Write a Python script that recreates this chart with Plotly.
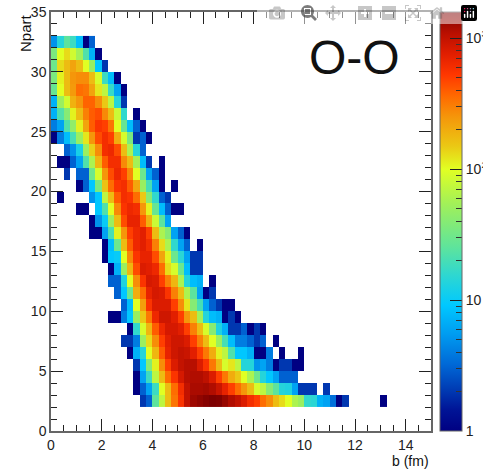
import numpy as np
import plotly.graph_objects as go

b_edges = [i * 0.25 for i in range(61)]
npart_edges = list(range(2, 34))

n2 = [0]*14 + [2,3,25,70,170,330,550,1000,1300,1400,1500,1600,1550,1350,1150,1000,800,600,500,350,270,170,130,100,60,50,16,15,7,6,3.5,1,2,0,0,0,0,0,1]
n3 = [0]*13 + [1,3,6,18,100,170,350,600,1000,1200,1200,1250,1150,950,700,500,350,250,170,90,70,40,25,14,13,6,2,2,2,0,2]
n4 = [0]*13 + [1,6,18,70,170,350,550,850,1100,1150,1150,1050,800,500,320,200,150,100,60,30,14,9,6,3,3,3]
n5 = [0]*13 + [2,9,40,110,270,500,800,1000,1100,1100,800,550,320,170,90,120,70,14,14,5,6,4,1,2,2,1,1]
n6 = [0]*12 + [1,7,14,100,180,400,700,900,1000,950,750,500,320,200,110,70,22,9,9,7,1,1,4,0,1,0,0,1]
n7 = [0]*11 + [2,2,4,50,130,270,500,750,900,900,800,500,300,170,100,50,20,8,4,4,3,2,3,0,1]
n8 = [0]*12 + [1,16,90,180,400,650,850,850,750,500,300,170,90,40,13,7,2,2,3,1,2,1]
n9 = [0]*9 + [1,1,4,9,50,150,320,650,900,900,750,500,250,170,55,14,8,7,1,2,1]
n10 = [0]*11 + [3,8,100,230,550,800,800,800,500,270,120,40,20,6,3,2,1,1]
n11 = [0]*10 + [3,9,30,200,350,700,850,800,550,300,170,60,25,6,1,2]
n12 = [0]*9 + [3,3,13,100,270,550,850,800,500,300,180,60,14,8,7,0,1]
n13 = [0]*9 + [1,7,50,180,450,800,750,650,350,130,90,30,8,2,2]
n14 = [0]*8 + [1,9,10,100,280,550,700,700,450,220,110,30,15,6,2,2]
n15 = [0]*8 + [1,8,30,170,400,650,750,600,300,130,60,16,6,3,0,1]
n16 = [0]*6 + [1,1,6,20,110,250,500,650,750,500,170,60,40,6,3,1]
n17 = [0]*6 + [1,5,10,50,170,450,700,700,400,190,80,25,6]
n18 = [0]*4 + [1,1,0,9,22,100,280,550,650,600,250,110,28,8,3,1,1]
n19 = [0,1,0,0,0,0,5,9,70,170,400,600,550,350,150,40,16,3,2]
n20 = [0,0,0,0,1,3,9,35,160,350,550,600,400,210,50,20,6,1,0,1]
n21 = [0,0,2,0,3,3,30,90,250,450,650,500,280,100,30,6,3,1]
n22 = [0,1,1,3,6,22,60,180,400,600,600,280,170,55,8,2,0,1]
n23 = [0,0,3,5,12,50,140,270,600,650,450,170,60,14,3]
n24 = [1,4,8,20,50,120,250,450,600,500,200,90,35,2,3,1]
n25 = [4,6,22,45,110,220,400,550,500,330,100,28,8,3,1]
n26 = [7,22,40,110,170,300,400,450,280,170,80,16,0,1]
n27 = [7,50,85,190,250,380,380,270,150,70,14,2]
n28 = [28,100,170,240,350,330,220,120,70,17,6,1]
n29 = [35,110,170,250,270,270,170,90,18,8,1]
n30 = [30,130,170,220,170,100,50,9,2]
n31 = [35,100,130,85,55,22,7,1]
n32 = [5,14,25,18,8,1,3]

rows = [n2,n3,n4,n5,n6,n7,n8,n9,n10,n11,n12,n13,n14,n15,n16,n17,
        n18,n19,n20,n21,n22,n23,n24,n25,n26,n27,n28,n29,n30,n31,n32]

x_ticks = [0, 2, 4, 6, 8, 10, 12, 14]
y_ticks = [0, 5, 10, 15, 20, 25, 30, 35]
cbar_ticks = [1, 10, 100, 1000]
cbar_labels = ["1", "10", "10<sup>2</sup>", "10<sup>3</sup>"]
cbar_minor = [a * d for d in (1, 10, 100) for a in range(2, 10)]

ncol = len(b_edges) - 1
z = np.full((len(rows), ncol), np.nan)
for i, r in enumerate(rows):
    for j, v in enumerate(r):
        if v > 0:
            z[i, j] = np.log10(v)

palette = [
    [0.00, "rgb(0,0,130)"], [0.05, "rgb(0,20,150)"], [0.10, "rgb(0,60,180)"],
    [0.16, "rgb(0,105,215)"], [0.23, "rgb(0,155,240)"], [0.30, "rgb(0,200,255)"],
    [0.37, "rgb(45,215,210)"], [0.44, "rgb(95,228,155)"], [0.54, "rgb(160,240,90)"],
    [0.625, "rgb(225,255,35)"], [0.68, "rgb(235,200,20)"], [0.75, "rgb(245,150,10)"],
    [0.80, "rgb(255,105,0)"], [0.85, "rgb(255,55,0)"], [0.90, "rgb(225,30,0)"],
    [0.95, "rgb(185,15,0)"], [1.00, "rgb(125,0,0)"],
]
clear = [[0, "rgba(0,0,0,0)"], [1, "rgba(0,0,0,0)"]]

W, H = 483, 470
ml, mr, mt, mb = 51, 52, 12, 39
pw = W - ml - mr
ph = H - mt - mb
font = "Liberation Sans, Arial, sans-serif"
AX = dict(family=font, size=14, color="#222")

fig = go.Figure()
fig.add_trace(go.Heatmap(
    x=b_edges, y=npart_edges, z=z, zmin=0, zmax=3.2,
    colorscale=palette, hoverongaps=False,
    colorbar=dict(x=1 + 9 / pw, xanchor="left", xpad=0, ypad=0, y=0, yanchor="bottom",
                  len=1, thickness=22, outlinewidth=0, ticks="inside", ticklen=6,
                  tickcolor="#333", tickwidth=1, tickmode="array",
                  tickvals=[float(np.log10(v)) for v in cbar_minor],
                  ticktext=[""] * len(cbar_minor), tickfont=AX),
))
fig.add_trace(go.Heatmap(
    x=b_edges, y=npart_edges, z=z, zmin=0, zmax=3.2,
    colorscale=clear, hoverinfo="skip",
    colorbar=dict(x=1 + 9 / pw, xanchor="left", xpad=0, ypad=0, y=0, yanchor="bottom",
                  len=1, thickness=22, outlinewidth=1, outlinecolor="#666", ticks="inside", ticklen=12,
                  tickcolor="#222", tickwidth=1, tickmode="array",
                  tickvals=[float(np.log10(v)) for v in cbar_ticks],
                  ticktext=cbar_labels, tickfont=AX),
))

common = dict(showgrid=False, zeroline=False, showline=True, linecolor="#666", linewidth=1.5,
              mirror="ticks", ticks="inside", ticklen=12, tickcolor="#222", tickwidth=1,
              tickfont=AX)
fig.update_layout(
    width=W, height=H, margin=dict(l=ml, r=mr, t=mt, b=mb, pad=0, autoexpand=False),
    paper_bgcolor="white", plot_bgcolor="white", showlegend=False,
    xaxis=dict(range=[0, 15], tickvals=x_ticks,
               minor=dict(tick0=0, dtick=0.5, ticks="inside", ticklen=6, tickcolor="#222", tickwidth=1),
               **common),
    yaxis=dict(range=[0, 35], tickvals=y_ticks,
               minor=dict(tick0=0, dtick=1, ticks="inside", ticklen=6, tickcolor="#222", tickwidth=1),
               **common),
    annotations=[
        dict(text="O-O", xref="paper", yref="paper", x=(354 - ml) / pw, y=1 - (57 - mt) / ph,
             showarrow=False, xanchor="center", yanchor="middle",
             font=dict(family=font, size=48, color="#111")),
        dict(text="Npart", xref="paper", yref="paper", x=(25 - ml) / pw, y=1, textangle=-90,
             showarrow=False, xanchor="center", yanchor="top", font=dict(family=font, size=15, color="#111")),
        dict(text="b (fm)", xref="paper", yref="paper", x=1, y=1 - (461 - mt) / ph,
             showarrow=False, xanchor="right", yanchor="middle", font=dict(family=font, size=14, color="#111")),
    ],
)
fig.write_html("out.html", post_script="document.body.style.margin='0';")
